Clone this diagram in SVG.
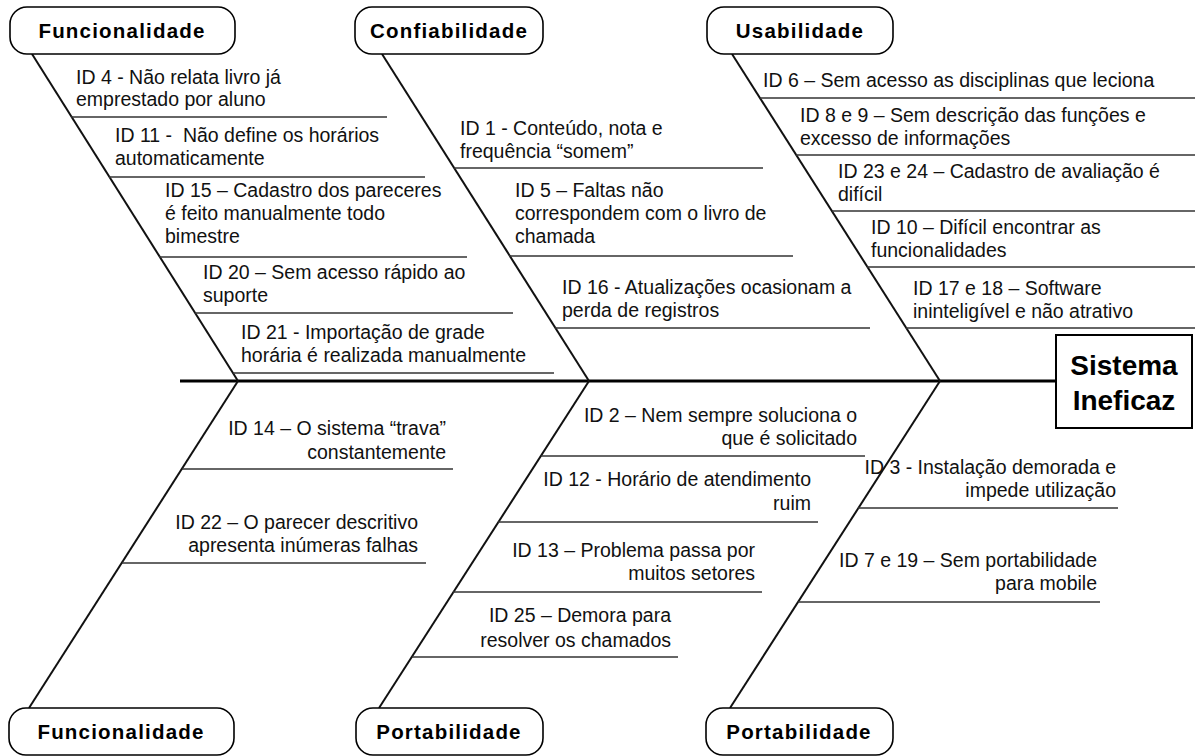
<svg xmlns="http://www.w3.org/2000/svg" width="1198" height="756" viewBox="0 0 1198 756">
<style>
.t{font-family:"Liberation Sans",Arial,sans-serif;font-size:19.5px;fill:#111}
.r{text-anchor:end}
.h{font-family:"Liberation Sans",Arial,sans-serif;font-size:20.5px;font-weight:bold;letter-spacing:1.2px;fill:#000;text-anchor:middle}
.box{fill:#fff;stroke:#000;stroke-width:1.6}
.bone{stroke:#111;stroke-width:2;fill:none}
.rib{stroke:#333;stroke-width:1.6;fill:none}
.spine{stroke:#000;stroke-width:3;fill:none}
</style>
<rect width="1198" height="756" fill="#fff"/>
<g id="connectors">
<line class="spine" x1="180" y1="381" x2="1056" y2="381"/>
<line class="bone" x1="32" y1="54" x2="238" y2="381"/>
<line class="bone" x1="382" y1="54" x2="589" y2="381"/>
<line class="bone" x1="732" y1="54" x2="940" y2="381"/>
<line class="bone" x1="238" y1="381" x2="29" y2="708"/>
<line class="bone" x1="589" y1="381" x2="379" y2="708"/>
<line class="bone" x1="940" y1="381" x2="730" y2="708"/>
<line class="rib" x1="71" y1="117" x2="387" y2="117"/>
<line class="rib" x1="109" y1="177" x2="425" y2="177"/>
<line class="rib" x1="159" y1="257" x2="467" y2="257"/>
<line class="rib" x1="195" y1="313" x2="513" y2="313"/>
<line class="rib" x1="233" y1="373" x2="554" y2="373"/>
<line class="rib" x1="454" y1="168" x2="763" y2="168"/>
<line class="rib" x1="509" y1="256" x2="793" y2="256"/>
<line class="rib" x1="555" y1="328" x2="870" y2="328"/>
<line class="rib" x1="760" y1="98" x2="1195" y2="98"/>
<line class="rib" x1="796" y1="155" x2="1195" y2="155"/>
<line class="rib" x1="832" y1="211" x2="1195" y2="211"/>
<line class="rib" x1="867" y1="267" x2="1195" y2="267"/>
<line class="rib" x1="906" y1="328" x2="1195" y2="328"/>
<line class="rib" x1="182" y1="469" x2="453" y2="469"/>
<line class="rib" x1="122" y1="563" x2="426" y2="563"/>
<line class="rib" x1="541" y1="456" x2="865" y2="456"/>
<line class="rib" x1="498" y1="522" x2="818" y2="522"/>
<line class="rib" x1="453" y1="592" x2="762" y2="592"/>
<line class="rib" x1="412" y1="657" x2="678" y2="657"/>
<line class="rib" x1="858" y1="508" x2="1118" y2="508"/>
<line class="rib" x1="798" y1="602" x2="1100" y2="602"/>
</g>
<g id="cat-funcionalidade-top"><rect class="box" x="10" y="7" width="225" height="47" rx="17"/><text class="h" x="122" y="38">Funcionalidade</text></g>
<g id="cat-confiabilidade"><rect class="box" x="355" y="7" width="188" height="47" rx="17"/><text class="h" x="449" y="38">Confiabilidade</text></g>
<g id="cat-usabilidade"><rect class="box" x="707" y="7" width="186" height="47" rx="17"/><text class="h" x="800" y="38">Usabilidade</text></g>
<g id="cat-funcionalidade-bottom"><rect class="box" x="9" y="708" width="225" height="47" rx="17"/><text class="h" x="121" y="739">Funcionalidade</text></g>
<g id="cat-portabilidade-mid"><rect class="box" x="356" y="708" width="187" height="47" rx="17"/><text class="h" x="449" y="739">Portabilidade</text></g>
<g id="cat-portabilidade-right"><rect class="box" x="706" y="708" width="187" height="47" rx="17"/><text class="h" x="799" y="739">Portabilidade</text></g>
<g id="effect"><rect x="1056" y="335" width="136" height="93" fill="#fff" stroke="#000" stroke-width="2"/><text x="1124" y="375" font-family="Liberation Sans,Arial,sans-serif" font-size="28" font-weight="bold" text-anchor="middle">Sistema</text><text x="1124" y="410" font-family="Liberation Sans,Arial,sans-serif" font-size="28" font-weight="bold" text-anchor="middle">Ineficaz</text></g>
<g id="id4"><text class="t" x="76" y="84">ID 4 - Não relata livro já</text><text class="t" x="76" y="106">emprestado por aluno</text></g>
<g id="id11"><text class="t" x="115" y="142" style="white-space:pre">ID 11 -  Não define os horários</text><text class="t" x="115" y="165">automaticamente</text></g>
<g id="id15"><text class="t" x="165" y="197">ID 15 – Cadastro dos pareceres</text><text class="t" x="165" y="220">é feito manualmente todo</text><text class="t" x="165" y="243">bimestre</text></g>
<g id="id20"><text class="t" x="203" y="279">ID 20 – Sem acesso rápido ao</text><text class="t" x="203" y="302">suporte</text></g>
<g id="id21"><text class="t" x="241" y="339">ID 21 - Importação de grade</text><text class="t" x="241" y="362">horária é realizada manualmente</text></g>
<g id="id1"><text class="t" x="460" y="135">ID 1 - Conteúdo, nota e</text><text class="t" x="460" y="158">frequência “somem”</text></g>
<g id="id5"><text class="t" x="515" y="197">ID 5 – Faltas não</text><text class="t" x="515" y="220">correspondem com o livro de</text><text class="t" x="515" y="243">chamada</text></g>
<g id="id16"><text class="t" x="562" y="294">ID 16 - Atualizações ocasionam a</text><text class="t" x="562" y="317">perda de registros</text></g>
<g id="id6"><text class="t" x="763" y="87">ID 6 – Sem acesso as disciplinas que leciona</text></g>
<g id="id8-9"><text class="t" x="800" y="122">ID 8 e 9 – Sem descrição das funções e</text><text class="t" x="800" y="145">excesso de informações</text></g>
<g id="id23-24"><text class="t" x="838" y="178">ID 23 e 24 – Cadastro de avaliação é</text><text class="t" x="838" y="201">difícil</text></g>
<g id="id10"><text class="t" x="871" y="234">ID 10 – Difícil encontrar as</text><text class="t" x="871" y="257">funcionalidades</text></g>
<g id="id17-18"><text class="t" x="913" y="295">ID 17 e 18 – Software</text><text class="t" x="913" y="318">ininteligível e não atrativo</text></g>
<g id="id14"><text class="t r" x="446" y="435">ID 14 – O sistema “trava”</text><text class="t r" x="446" y="459">constantemente</text></g>
<g id="id22"><text class="t r" x="418" y="529">ID 22 – O parecer descritivo</text><text class="t r" x="418" y="552">apresenta inúmeras falhas</text></g>
<g id="id2"><text class="t r" x="857" y="422">ID 2 – Nem sempre soluciona o</text><text class="t r" x="857" y="445">que é solicitado</text></g>
<g id="id12"><text class="t r" x="811" y="486">ID 12 - Horário de atendimento</text><text class="t r" x="811" y="510">ruim</text></g>
<g id="id13"><text class="t r" x="755" y="557">ID 13 – Problema passa por</text><text class="t r" x="755" y="580">muitos setores</text></g>
<g id="id25"><text class="t r" x="671" y="622">ID 25 – Demora para</text><text class="t r" x="671" y="647">resolver os chamados</text></g>
<g id="id3"><text class="t r" x="1116" y="474">ID 3 - Instalação demorada e</text><text class="t r" x="1116" y="497">impede utilização</text></g>
<g id="id7-19"><text class="t r" x="1097" y="567">ID 7 e 19 – Sem portabilidade</text><text class="t r" x="1097" y="590">para mobile</text></g>
</svg>
